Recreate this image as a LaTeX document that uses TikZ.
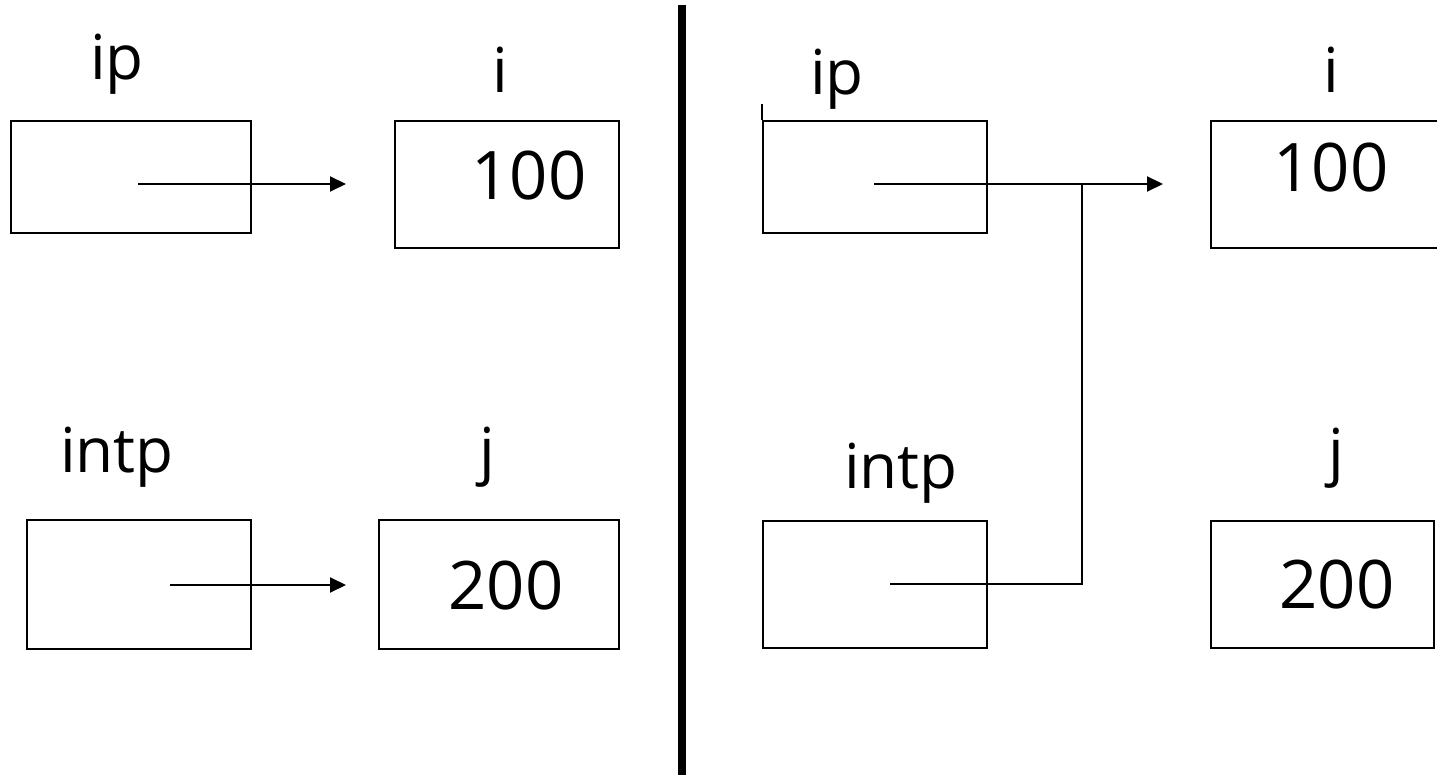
\documentclass[tikz,border=0pt]{standalone}
\usepackage{fontspec}
\setmainfont{Open Sans}
\usetikzlibrary{arrows.meta}
\begin{document}
\begin{tikzpicture}[x=1pt,y=-1pt,
  box/.style={draw=black, line width=2pt, inner sep=0pt, anchor=north west},
  lbl/.style={inner sep=0pt, anchor=base, font=\fontsize{62}{74}\selectfont},
  num/.style={inner sep=0pt, anchor=base, font=\fontsize{67}{80}\selectfont},
  ptr/.style={line width=2pt, -{Triangle[length=16pt,width=15pt]}},
  wire/.style={line width=2pt}]
\useasboundingbox (0,0) rectangle (1437,775);
% ---------- left half ----------
\node[box, minimum width=240pt, minimum height=112pt] (ipL) at (10,120) {};
\node[box, minimum width=224pt, minimum height=127pt] (iL) at (394,120) {};
\node[box, minimum width=224pt, minimum height=129pt] (intpL) at (26,519) {};
\node[box, minimum width=240pt, minimum height=129pt] (jL) at (378,519) {};
\node[lbl] (tipL) at (117,80) {ip};
\node[lbl] (tiL) at (500,93) {i};
\node[lbl] (tintpL) at (117,472) {intp};
\node[lbl] (tjL) at (487,472) {j};
\node[num] (v100L) at (529,200) {100};
\node[num] (v200L) at (506,609) {200};
\coordinate (aL1) at (138,184);
\coordinate (bL1) at (346,184);
\coordinate (aL2) at (170,585);
\coordinate (bL2) at (346,585);
\draw[ptr] (aL1) -- (bL1);
\draw[ptr] (aL2) -- (bL2);
% ---------- divider ----------
\coordinate (dTop) at (682,5);
\coordinate (dBot) at (682,775);
\draw[line width=8pt] (dTop) -- (dBot);
% ---------- right half ----------
\node[box, minimum width=224pt, minimum height=112pt] (ipR) at (762,120) {};
\node[box, minimum width=240pt, minimum height=127pt] (iR) at (1210,120) {};
\node[box, minimum width=224pt, minimum height=127pt] (intpR) at (762,520) {};
\node[box, minimum width=223pt, minimum height=127pt] (jR) at (1210,520) {};
\coordinate (tick) at (762,104);
\draw[wire] (tick) -- (ipR.north west);
\node[lbl] (tipR) at (837,95) {ip};
\node[lbl] (tiR) at (1331,93) {i};
\node[lbl] (tintpR) at (901,488) {intp};
\node[lbl] (tjR) at (1336,473) {j};
\node[num] (v100R) at (1331,192) {100};
\node[num] (v200R) at (1337,608) {200};
\coordinate (aR1) at (874,184);
\coordinate (bR1) at (1163,184);
\coordinate (aR2) at (890,584);
\coordinate (jn) at (1082,184);
\draw[ptr] (aR1) -- (bR1);
\draw[wire, line join=miter] (aR2) -| (jn);
\end{tikzpicture}
\end{document}
